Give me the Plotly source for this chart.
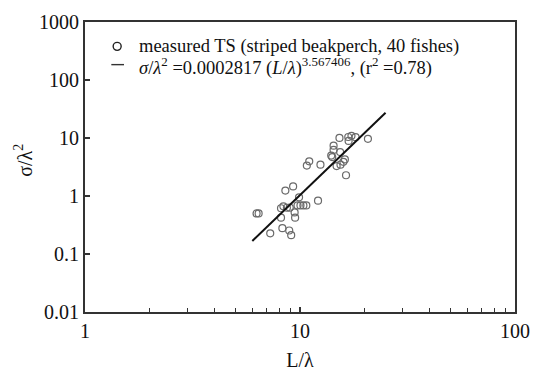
import plotly.graph_objects as go

# measured TS points (L/lambda, sigma/lambda^2)
length_ratio = [6.28, 6.42, 7.27, 8.28, 8.91, 9.10, 8.55, 9.29, 9.90, 8.16,
                8.37, 8.69, 8.16, 9.44, 9.49, 9.74, 10.05, 10.37, 10.70, 12.13,
                10.76, 11.04, 12.45, 14.33, 14.33, 13.97, 14.12, 15.26, 15.37, 14.80,
                15.43, 16.17, 15.92, 16.37, 16.77, 17.35, 18.14, 16.83, 20.7, 8.96]
sigma_ratio = [0.50, 0.50, 0.227, 0.279, 0.254, 0.211, 1.24, 1.46, 0.95, 0.615,
               0.664, 0.627, 0.423, 0.520, 0.423, 0.689, 0.689, 0.689, 0.689, 0.832,
               3.35, 3.96, 3.47, 7.38, 6.22, 4.97, 4.69, 10.04, 5.71, 3.28,
               3.47, 4.27, 3.89, 2.28, 10.4, 10.9, 10.35, 8.9, 9.67, 0.63]

# regression line endpoints
fit_x = [6.0, 25.0]
fit_y = [0.168, 27.3]

x_tickvals = [1, 10, 100]
x_ticktext = ["1", "10", "100"]
x_minor = [2, 3, 4, 5, 6, 7, 8, 9, 20, 30, 40, 50, 60, 70, 80, 90]
y_tickvals = [0.01, 0.1, 1, 10, 100, 1000]
y_ticktext = ["0.01", "0.1", "1", "10", "100", "1000"]

legend_labels = [
    "measured TS (striped beakperch, 40 fishes)",
    "<i>σ</i>/<i>λ</i><sup>2</sup> =0.0002817 (<i>L</i>/<i>λ</i>)<sup>3.567406</sup>, (r<sup>2</sup> =0.78)",
]

FONT = "Liberation Serif"
AX = "#333333"
MK = "#6a6a6a"

fig = go.Figure()
fig.add_trace(go.Scatter(
    x=length_ratio, y=sigma_ratio, mode="markers",
    name=legend_labels[0],
    marker=dict(symbol="circle-open", size=7, color=MK, line=dict(width=1.2, color=MK)),
))
fig.add_trace(go.Scatter(
    x=fit_x, y=fit_y, mode="lines",
    name=legend_labels[1],
    line=dict(color="#111111", width=2),
))

# custom legend (text + keys)
fig.add_annotation(xref="paper", yref="paper", x=0.1202, y=0.916,
                   xanchor="left", yanchor="middle", showarrow=False,
                   text=legend_labels[0], font=dict(size=18.5, family=FONT, color="#111111"))
fig.add_annotation(xref="paper", yref="paper", x=0.1202, y=0.846,
                   xanchor="left", yanchor="middle", showarrow=False,
                   text=legend_labels[1], font=dict(size=18.5, family=FONT, color="#111111"))
fig.add_shape(type="circle", xref="paper", yref="paper",
              xsizemode="pixel", ysizemode="pixel",
              xanchor=0.0748, yanchor=0.916, x0=-4, x1=4, y0=-4, y1=4,
              line=dict(color="#222222", width=1.4))
fig.add_shape(type="line", xref="paper", yref="paper",
              x0=0.0612, x1=0.0907, y0=0.853, y1=0.853,
              line=dict(color="#333333", width=1.4))

# y-axis title as annotation
fig.add_annotation(xref="paper", yref="paper", x=-0.143, y=0.523,
                   xanchor="center", yanchor="middle", showarrow=False, textangle=-90,
                   text="σ/λ<sup>2</sup>", font=dict(size=20, family=FONT, color="#111111"))

fig.update_layout(
    width=541, height=379,
    margin=dict(l=85, r=15, t=11, b=62),
    paper_bgcolor="white", plot_bgcolor="white",
    font=dict(family=FONT, size=18, color="#111111"),
    showlegend=False,
    xaxis=dict(
        type="log", range=[0, 2],
        tickvals=x_tickvals, ticktext=x_ticktext,
        ticks="inside", ticklen=5, tickwidth=1.5, tickcolor=AX,
        minor=dict(tickvals=x_minor, ticks="inside", ticklen=4, tickwidth=1.2, tickcolor=AX),
        showline=True, linecolor=AX, linewidth=2, mirror=True,
        showgrid=False, zeroline=False,
        tickfont=dict(size=20, family=FONT),
        title=dict(text="L/λ", font=dict(size=20, family=FONT), standoff=12),
    ),
    yaxis=dict(
        type="log", range=[-2, 3],
        tickvals=y_tickvals, ticktext=y_ticktext,
        ticks="inside", ticklen=5, tickwidth=1.5, tickcolor=AX,
        showline=True, linecolor=AX, linewidth=2, mirror=True,
        showgrid=False, zeroline=False,
        tickfont=dict(size=20, family=FONT),
    ),
)

fig.write_html("out.html")
